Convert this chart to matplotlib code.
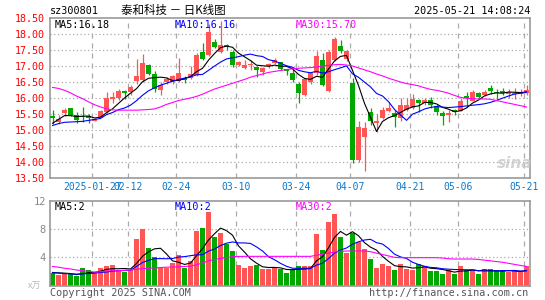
import matplotlib
matplotlib.use('Agg')
import matplotlib.pyplot as plt
import numpy as np
import pandas as pd

# ---------------- data ----------------
dates = ['01-16','01-17','01-20','01-21','01-22','01-23','01-24','01-27','02-05','02-06',
         '02-07','02-10','02-11','02-12','02-13','02-14','02-17','02-18','02-19','02-20',
         '02-21','02-24','02-25','02-26','02-27','02-28','03-03','03-04','03-05','03-06',
         '03-07','03-10','03-11','03-12','03-13','03-14','03-17','03-18','03-19','03-20',
         '03-21','03-24','03-25','03-26','03-27','03-28','03-31','04-01','04-02','04-03',
         '04-07','04-08','04-09','04-10','04-11','04-14','04-15','04-16','04-17','04-18',
         '04-21','04-22','04-23','04-24','04-25','04-28','04-29','04-30','05-06','05-07',
         '05-08','05-09','05-12','05-13','05-14','05-15','05-16','05-19','05-20','05-21']

opens = [15.44,15.26,15.52,15.69,15.46,15.45,15.45,15.29,15.42,15.55,
         15.98,16.00,16.22,16.20,16.53,16.56,17.03,16.75,16.24,16.50,
         16.50,16.53,16.64,16.63,16.72,17.45,17.35,17.76,17.45,17.66,
         17.45,17.04,16.93,17.03,16.98,16.80,17.00,17.08,17.11,16.90,
         16.77,16.44,16.10,16.50,16.77,17.18,16.23,17.20,17.63,17.22,
         16.47,14.06,14.79,15.55,15.22,15.38,15.60,15.54,15.38,15.63,
         15.70,15.94,15.83,15.95,15.74,15.54,15.46,15.62,15.60,16.06,
         15.92,16.15,16.09,16.30,16.20,16.23,16.13,16.12,16.13,16.17]

closes = [15.36,15.34,15.63,15.47,15.30,15.41,15.37,15.33,15.59,16.00,
          16.02,16.22,16.17,16.35,16.70,17.10,16.76,16.28,16.42,16.58,
          16.68,16.78,16.56,16.74,17.35,17.21,18.05,17.60,17.66,17.58,
          17.04,17.13,17.03,17.07,16.86,16.95,17.05,17.20,16.92,16.83,
          16.56,16.17,16.58,16.77,17.31,16.41,17.45,17.85,17.48,17.47,
          14.05,15.10,15.07,15.28,15.27,15.61,15.69,15.40,15.77,15.78,
          15.98,15.83,15.94,15.78,15.55,15.44,15.54,15.55,15.92,15.99,
          16.20,16.02,16.20,16.23,16.15,16.15,16.20,16.17,16.18,16.24]

highs = [15.62,15.48,15.68,15.70,15.55,15.72,15.50,15.36,15.62,16.20,
         16.20,16.28,16.24,16.42,17.22,17.36,17.05,16.85,16.50,16.66,
         16.72,17.24,16.70,17.00,17.42,17.72,18.32,17.85,18.40,17.70,
         17.50,17.15,17.18,17.18,17.00,16.98,17.10,17.25,17.12,16.92,
         16.90,16.50,16.62,16.80,17.48,17.40,17.50,17.90,17.82,17.50,
         16.62,15.28,15.25,15.68,15.50,15.72,15.88,15.62,16.00,16.00,
         16.12,15.98,16.00,16.02,15.80,15.58,15.62,15.66,15.99,16.20,
         16.24,16.18,16.24,16.41,16.29,16.30,16.27,16.30,16.28,16.41]

lows = [15.19,15.18,15.45,15.45,15.22,15.26,15.22,15.28,15.40,15.52,
        15.85,15.95,15.98,16.10,16.45,16.50,16.72,16.18,16.10,16.45,
        16.45,16.50,16.48,16.60,16.70,17.18,17.30,17.55,17.40,17.50,
        16.98,17.00,16.90,16.88,16.66,16.72,16.95,17.05,16.88,16.72,
        16.50,15.84,16.05,16.45,16.72,16.38,16.20,17.15,17.40,17.15,
        13.98,14.00,13.73,15.15,14.93,15.35,15.55,15.10,15.28,15.58,
        15.65,15.55,15.78,15.70,15.48,15.16,15.26,15.47,15.58,15.73,
        15.90,16.00,16.05,16.12,15.96,16.08,16.00,15.97,16.07,16.10]

# leading moving-average values (need history before the window)
ma5_lead = [15.21, 15.33, 15.45, 15.45]
ma10_lead = [15.14, 15.20, 15.24, 15.25, 15.26, 15.27, 15.30, 15.33, 15.36]
ma30 = [16.33,16.30,16.24,16.16,16.06,15.98,15.88,15.79,15.72,15.66,
        15.63,15.62,15.62,15.62,15.62,15.63,15.64,15.66,15.72,15.80,
        15.86,15.92,15.96,16.00,16.05,16.12,16.20,16.28,16.34,16.40,
        16.46,16.52,16.58,16.65,16.70,16.75,16.80,16.83,16.86,16.89,
        16.91,16.93,16.94,16.95,16.97,17.00,17.02,17.04,17.05,17.03,
        17.00,16.94,16.88,16.82,16.75,16.69,16.62,16.56,16.50,16.45,
        16.42,16.38,16.32,16.27,16.24,16.20,16.15,16.08,16.02,15.99,
        15.98,15.97,15.97,15.96,15.92,15.88,15.84,15.80,15.76,15.72]

volumes = [1.76,1.43,1.57,1.67,1.29,2.43,2.14,1.76,2.43,2.71,
           2.86,2.14,1.90,2.14,6.57,8.00,5.29,4.05,2.52,2.52,
           3.14,4.29,2.48,3.48,7.76,8.14,10.48,6.90,7.48,5.95,
           4.90,2.90,2.48,2.71,2.90,2.29,2.40,2.55,2.38,1.76,
           2.14,2.71,2.71,2.71,7.29,5.00,9.05,10.14,6.90,4.62,
           7.48,6.19,5.24,3.71,2.52,3.00,2.71,2.14,3.00,2.38,
           2.14,3.00,2.71,2.05,2.05,1.57,2.14,1.67,2.81,2.19,
           2.19,1.57,2.29,2.29,2.05,2.05,1.90,2.05,1.90,2.71]
vma5_lead = [1.85, 1.80, 1.75, 1.70]
vma10_lead = [1.80, 1.75, 1.70, 1.65, 1.62, 1.65, 1.70, 1.75, 1.85]
vma30 = [2.70,2.60,2.45,2.35,2.20,2.10,2.00,1.90,1.95,2.05,
         2.10,2.10,2.15,2.20,2.30,2.40,2.45,2.50,2.55,2.60,
         2.62,2.65,2.70,2.75,2.95,3.20,3.50,3.70,3.85,3.95,
         4.10,4.12,4.14,4.14,4.14,4.14,4.14,4.14,4.14,4.14,
         4.14,4.14,4.14,4.14,4.30,4.45,4.60,4.75,4.85,4.90,
         4.90,4.90,4.90,4.80,4.60,4.40,4.20,4.00,3.95,3.95,
         3.95,3.95,3.95,3.95,3.95,3.90,3.80,3.76,3.76,3.76,
         3.76,3.70,3.60,3.50,3.40,3.30,3.15,3.00,2.85,2.70]

grid_dates = ['01-27', '02-12', '02-24', '03-10', '03-24', '04-07', '04-21', '05-06', '05-21']
grid_labels = ['2025-01-27', '02-12', '02-24', '03-10', '03-24', '04-07', '04-21', '05-06', '05-21']
price_ticks = [13.5, 14.0, 14.5, 15.0, 15.5, 16.0, 16.5, 17.0, 17.5, 18.0, 18.5]
vol_ticks = [4, 8, 12]

code = 'sz300801'
title = '泰和科技 － 日K线图'
stamp = '2025-05-21 14:08:24'
ma_texts = ['MA5:16.18', 'MA10:16.16', 'MA30:15.70']
vma_texts = ['MA5:2', 'MA10:2', 'MA30:2']

# ---------------- derived ----------------
o = np.array(opens); c = np.array(closes); h = np.array(highs); l = np.array(lows)
v = np.array(volumes)
n = len(c)
x = np.arange(n)

def rolling_with_lead(vals, lead, w):
    r = pd.Series(vals).rolling(w).mean().to_numpy()
    r[:len(lead)] = lead
    return r

ma5 = rolling_with_lead(c, ma5_lead, 5)
ma10 = rolling_with_lead(c, ma10_lead, 10)
vma5 = rolling_with_lead(v, vma5_lead, 5)
vma10 = rolling_with_lead(v, vma10_lead, 10)

RED = '#ff5555'
GREEN = '#00a800'
GRID = '#aaaaaa'
BORDER = '#999999'
MONO = 'DejaVu Sans Mono'
cols = np.where(c >= o, RED, GREEN)
gpos = [dates.index(d) - 0.38 for d in grid_dates]

W, H = 545, 300
fig = plt.figure(figsize=(W / 100, H / 100), dpi=100)

def rect(x0, y0, x1, y1):
    return [x0 / W, 1 - y1 / H, (x1 - x0) / W, (y1 - y0) / H]

ax = fig.add_axes(rect(50, 18, 529.5, 178))
axv = fig.add_axes(rect(50, 201, 529.5, 285.5))

for a in (ax, axv):
    a.set_xlim(-0.42, n - 0.5)
    for s in a.spines.values():
        s.set_color(BORDER)
        s.set_linewidth(1.2)
    for gp in gpos:
        a.axvline(gp, color=GRID, lw=0.9, ls=(0, (4, 4)), zorder=0)

# ---- price panel ----
ax.set_ylim(13.5, 18.5)
for yv in price_ticks[1:-1]:
    ax.axhline(yv, color=GRID, lw=0.9, ls=(0, (1, 2)), zorder=0)
ax.vlines(x, l, h, colors=cols, lw=0.9, zorder=2)
ax.bar(x, np.maximum(np.abs(c - o), 0.015), bottom=np.minimum(o, c), width=0.8,
       color=cols, lw=0, zorder=3)
ax.plot(x, ma5, color='black', lw=0.8, zorder=4)
ax.plot(x, ma10, color='#0000ff', lw=0.8, zorder=4)
ax.plot(x, ma30, color='#ff00ff', lw=0.8, zorder=4)
ax.set_yticks(price_ticks)
ax.set_yticklabels(['%.2f' % t for t in price_ticks], color='#ff0000',
                   fontfamily=MONO, fontsize=7.2)
ax.set_xticks(gpos)
ax.set_xticklabels(grid_labels, color='#0a78cc', fontfamily=MONO, fontsize=7.0)
ax.tick_params(axis='both', length=0)
ax.tick_params(axis='y', pad=4)
ax.tick_params(axis='x', pad=3)

# ---- volume panel ----
axv.set_ylim(0, 12)
for yv in vol_ticks[:-1]:
    axv.axhline(yv, color=GRID, lw=0.9, ls=(0, (1, 2)), zorder=0)
axv.bar(x, v, width=0.82, color=cols, lw=0, zorder=2)
axv.plot(x, vma5, color='black', lw=0.8, zorder=4)
axv.plot(x, vma10, color='#0000ff', lw=0.8, zorder=4)
axv.plot(x, vma30, color='#ff00ff', lw=0.8, zorder=4)
axv.set_yticks(vol_ticks)
axv.set_yticklabels([str(t) for t in vol_ticks], color='#888888',
                    fontfamily=MONO, fontsize=7.5)
axv.set_xticks([])
axv.tick_params(axis='both', length=0)
axv.tick_params(axis='y', pad=3)

# ---- texts ----
def ftext(px, py, s, **kw):
    fig.text(px / W, 1 - py / H, s, va='center', **kw)

ftext(50, 10.5, code, color='black', fontfamily=MONO, fontsize=7.3)
ftext(121, 10, title, color='black', fontfamily=['Noto Sans CJK SC', 'DejaVu Sans'], fontsize=8.3)
ftext(530, 10.5, stamp, color='black', fontfamily=MONO, fontsize=7.3, ha='right')

ma_cols = ['black', '#0000ff', '#ff00ff']
for px, s, cl in zip([55, 175, 296], ma_texts, ma_cols):
    ftext(px, 24.5, s, color=cl, fontfamily=MONO, fontsize=7.3)
for px, s, cl in zip([55, 175, 296], vma_texts, ma_cols):
    ftext(px, 207, s, color=cl, fontfamily=MONO, fontsize=7.3)

ftext(28, 286, 'x万', color='#bbbbbb', fontfamily=['Noto Sans CJK SC', 'DejaVu Sans'],
      fontsize=6.5, style='italic')
ftext(50, 293, 'Copyright 2025 SINA.COM', color='#555555', fontfamily=MONO, fontsize=7.3)
ftext(528, 293, 'http://finance.sina.com.cn', color='#555555', fontfamily=MONO,
      fontsize=7.3, ha='right')
ftext(497, 163, 'sina', color='#c8c8c8', fontfamily='DejaVu Sans', fontsize=11,
      style='italic', fontweight='bold', alpha=0.8)

fig.savefig('out.png', dpi=100)
